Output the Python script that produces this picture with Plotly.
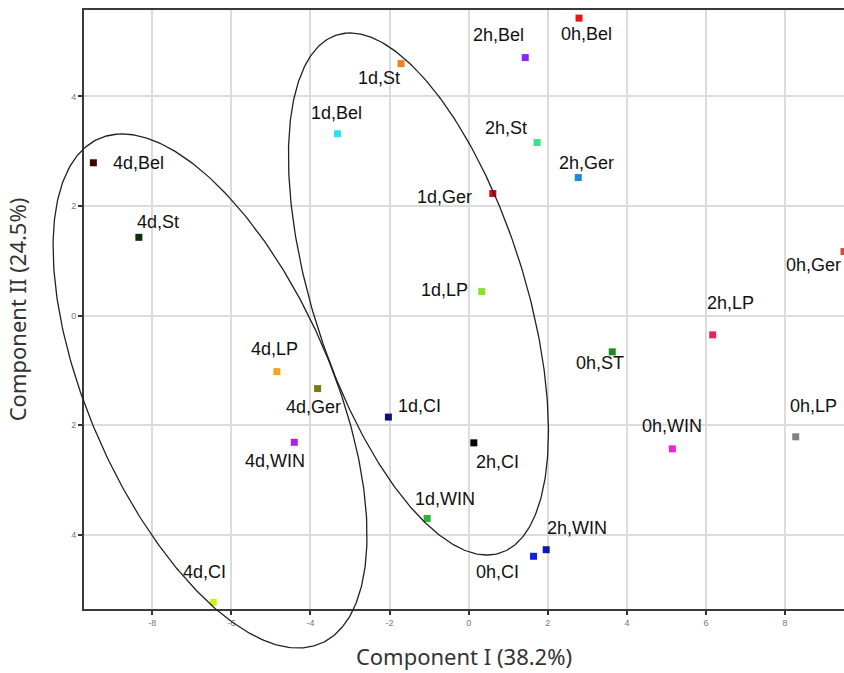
import numpy as np
import plotly.graph_objects as go

# ---------------- data ----------------
labels = ["0h,Bel", "2h,Bel", "2h,St", "2h,Ger", "1d,Ger", "1d,LP", "0h,Ger", "2h,LP",
          "0h,ST", "0h,WIN", "0h,LP", "2h,CI", "0h,CI", "2h,WIN", "1d,WIN", "1d,CI",
          "4d,WIN", "4d,Ger", "4d,LP", "4d,CI", "4d,Bel", "4d,St", "1d,Bel", "1d,St"]
comp1 = [2.79, 1.43, 1.73, 2.77, 0.61, 0.33, 9.489, 6.17,
         3.63, 5.15, 8.27, 0.13, 1.64, 1.96, -1.05, -2.03,
         -4.41, -3.82, -4.85, -6.46, -9.49, -8.34, -3.32, -1.71]
comp2 = [5.43, 4.71, 3.16, 2.52, 2.23, 0.44, 1.17, -0.35,
         -0.66, -2.43, -2.21, -2.32, -4.39, -4.27, -3.70, -1.85,
         -2.31, -1.33, -1.02, -5.23, 2.79, 1.43, 3.32, 4.60]

# group ellipses: centre, semi-diameter to the top point, horizontal conjugate semi-diameter
ell_cx = [-6.54, -1.27]
ell_cy = [-1.374, 0.396]
ell_ux = [-2.225, -1.732]
ell_uy = [4.690, 4.763]
ell_vx = [3.287, 2.794]

x_tickvals = [-8, -6, -4, -2, 0, 2, 4, 6, 8]
x_ticktext = ["-8", "-6", "-4", "-2", "0", "2", "4", "6", "8"]
y_tickvals = [-4, -2, 0, 2, 4]
y_ticktext = ["4", "2", "0", "2", "4"]

# ---------------- styles ----------------
colors = ["#ee1111", "#8a2be2", "#2ee88c", "#1e88e5", "#c01010", "#88e030", "#d05040", "#e8206a",
          "#1f8a1f", "#f020e0", "#808080", "#000000", "#1020e0", "#1018b0", "#20b830", "#101080",
          "#b020e8", "#7a7a10", "#f0a820", "#d0f020", "#3a0505", "#0a300a", "#30e0f0", "#f08020"]
# label offsets in pixels relative to the point it names (dx right, dy down)
lab_dx = [7, -27, -31.5, 8.5, -48, -37, -30.5, 18, -12, 0, 18, 23.5, -36, 31, 18, 31,
          -19, -4, -2, -9, 45, 19.5, -1, -22.5]
lab_dy = [16, -23, -15, -15, 4, -2, 13, -32, 11, -23, -31, 19, 16, -22, -19, -11,
          19, 18, -23, -30, 0, -15, -21, 14]

W, H = 844, 673
x_range = [-9.727, 9.490]
y_range = [-5.352, 5.578]
x_dom = [84 / W, 1.0]
y_dom = [(H - 609) / H, (H - 10) / H]


def full_range(r, d):
    span = (r[1] - r[0]) / (d[1] - d[0])
    return [r[0] - d[0] * span, r[1] + (1 - d[1]) * span]


fig = go.Figure()

fig.add_trace(go.Scatter(
    x=comp1, y=comp2, mode="markers",
    marker=dict(symbol="square", size=7, color=colors, line=dict(width=0)),
    hoverinfo="text", text=labels, showlegend=False, xaxis="x", yaxis="y"))

t = np.linspace(0, 2 * np.pi, 400)
for cx, cy, ux, uy, vx in zip(ell_cx, ell_cy, ell_ux, ell_uy, ell_vx):
    ex = cx + ux * np.cos(t) + vx * np.sin(t)
    ey = cy + uy * np.cos(t)
    fig.add_trace(go.Scatter(x=ex, y=ey, mode="lines", line=dict(color="#222222", width=1.3),
                             hoverinfo="skip", showlegend=False, xaxis="x2", yaxis="y2"))

for lab, x, y, dx, dy in zip(labels, comp1, comp2, lab_dx, lab_dy):
    fig.add_annotation(x=x, y=y, xref="x", yref="y", text=lab, showarrow=False,
                       xshift=dx, yshift=-dy,
                       font=dict(family="Liberation Sans, Arial, sans-serif", size=18, color="#111111"))

axis_common = dict(showgrid=True, gridcolor="#dcdcdc", gridwidth=1.5, zeroline=False,
                   showline=True, linecolor="#3a3a3a", linewidth=2,
                   ticks="outside", ticklen=4, tickwidth=1.5, tickcolor="#333333",
                   tickfont=dict(family="Liberation Sans, Arial, sans-serif", size=9, color="#777777"))

fig.update_layout(
    width=W, height=H, margin=dict(l=0, r=0, t=0, b=0),
    paper_bgcolor="white", plot_bgcolor="rgba(0,0,0,0)",
    xaxis=dict(domain=x_dom, range=x_range, tickvals=x_tickvals, ticktext=x_ticktext,
               mirror=True, anchor="y", automargin=False,
               title=dict(text="Component I (38.2%)", standoff=23,
                          font=dict(family="Noto Sans, sans-serif", size=22, color="#333333")),
               **axis_common),
    yaxis=dict(domain=y_dom, range=y_range, tickvals=y_tickvals, ticktext=y_ticktext,
               mirror=False, anchor="x", automargin=False,
               title=dict(text="Component II (24.5%)", standoff=38,
                          font=dict(family="Noto Sans, sans-serif", size=22, color="#333333")),
               **axis_common),
    xaxis2=dict(domain=[0, 1], range=full_range(x_range, x_dom), visible=False,
                anchor="y2", fixedrange=True),
    yaxis2=dict(domain=[0, 1], range=full_range(y_range, y_dom), visible=False,
                anchor="x2", fixedrange=True),
)

fig.write_html("out.html")
